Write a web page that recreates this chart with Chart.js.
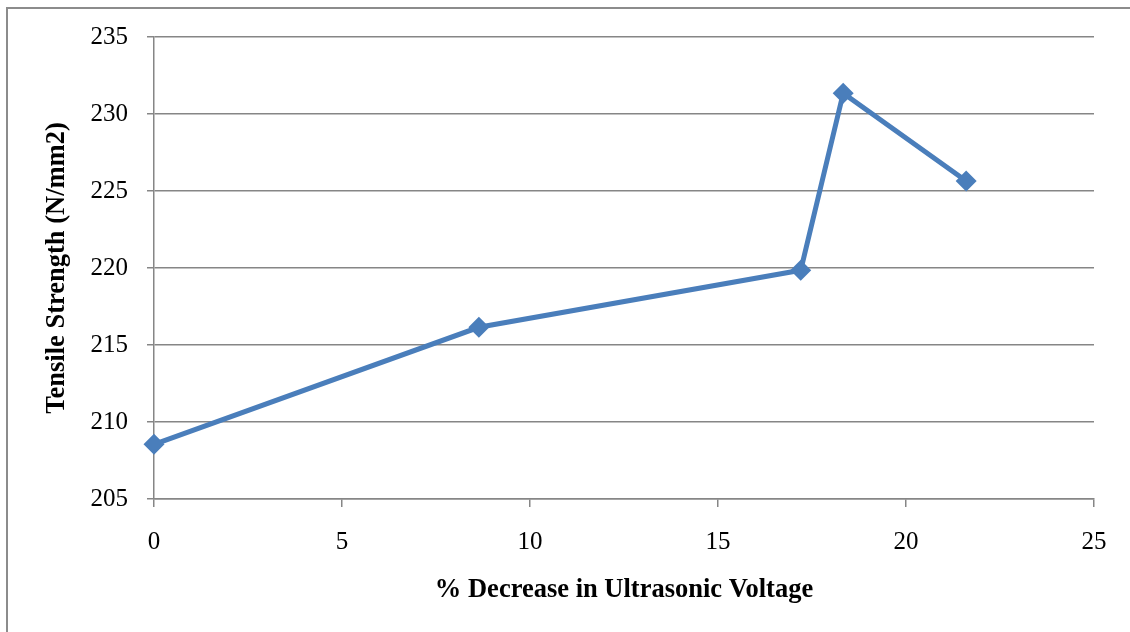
<!DOCTYPE html>
<html>
<head>
<meta charset="utf-8">
<script src="https://cdn.jsdelivr.net/npm/chart.js@4/dist/chart.umd.min.js"></script>
<style>
  html, body { margin: 0; padding: 0; background: #ffffff; }
  #wrap { width: 1130px; height: 632px; position: relative; }
</style>
</head>
<body>
<div id="wrap"><canvas id="c" width="1130" height="632"></canvas></div>
<script>
// Tensile strength vs. reduction in ultrasonic voltage
const voltageDecrease = [0, 8.64, 17.2, 18.33, 21.6];
const tensileStrength = [208.55, 216.15, 219.85, 231.35, 225.65];
const xTickRange = { min: 0, max: 25, step: 5 };
const yTickRange = { min: 205, max: 235, step: 5 };

const points = voltageDecrease.map((x, i) => ({ x: x, y: tensileStrength[i] }));

const gridGrey = '#868686';
const lineBlue = '#4a7ebb';
const serif = '"Liberation Serif", "Times New Roman", serif';

// Outer frame drawn around the chart
const framePlugin = {
  id: 'frame',
  beforeDraw(chart) {
    const ctx = chart.ctx;
    ctx.save();
    ctx.fillStyle = '#ffffff';
    ctx.fillRect(0, 0, chart.width, chart.height);
    ctx.strokeStyle = '#8c8c8c';
    ctx.lineWidth = 2;
    ctx.strokeRect(7, 8, 1300, 800);
    ctx.restore();
  }
};

new Chart(document.getElementById('c'), {
  type: 'line',
  data: {
    datasets: [{
      data: points,
      borderColor: lineBlue,
      backgroundColor: lineBlue,
      borderWidth: 5,
      pointStyle: 'rectRot',
      pointRadius: 10.5,
      pointHoverRadius: 10.5,
      pointBorderWidth: 0,
      tension: 0,
      fill: false,
      clip: false
    }]
  },
  options: {
    responsive: false,
    animation: false,
    devicePixelRatio: 1,
    layout: { padding: { left: 0, top: 37, right: 36, bottom: 0 } },
    plugins: { legend: { display: false }, tooltip: { enabled: false } },
    scales: {
      x: {
        type: 'linear',
        min: xTickRange.min,
        max: xTickRange.max,
        afterFit(scale) { scale.height = 133; },
        ticks: {
          stepSize: xTickRange.step,
          color: '#000000',
          padding: 20,
          font: { family: serif, size: 25 }
        },
        grid: {
          drawOnChartArea: false,
          drawTicks: true,
          tickLength: 8,
          color: gridGrey,
          lineWidth: 1.5
        },
        border: { color: gridGrey, width: 1.5 },
        title: {
          display: true,
          text: '% Decrease in Ultrasonic Voltage',
          color: '#000000',
          font: { family: serif, size: 26.5, weight: 'bold' },
          padding: { top: 0, bottom: 26 }
        }
      },
      y: {
        type: 'linear',
        min: yTickRange.min,
        max: yTickRange.max,
        afterFit(scale) { scale.width = 154; },
        ticks: {
          stepSize: yTickRange.step,
          color: '#000000',
          padding: 19,
          font: { family: serif, size: 25 }
        },
        grid: {
          drawTicks: true,
          tickLength: 7,
          color: gridGrey,
          lineWidth: 1.5
        },
        border: { color: gridGrey, width: 1.5 },
        title: {
          display: true,
          text: 'Tensile Strength (N/mm2)',
          color: '#000000',
          font: { family: serif, size: 26.5, weight: 'bold' },
          padding: { top: 41, bottom: 0 }
        }
      }
    }
  },
  plugins: [framePlugin]
});
</script>
</body>
</html>
